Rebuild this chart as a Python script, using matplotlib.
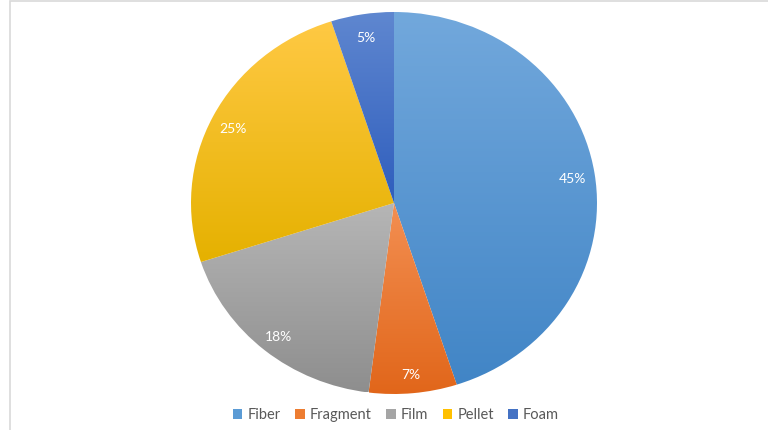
import numpy as np
import matplotlib
matplotlib.use('Agg')
import matplotlib.pyplot as plt
from matplotlib.colors import LinearSegmentedColormap
from matplotlib.patches import Patch, Rectangle

labels = ["Fiber", "Fragment", "Film", "Pellet", "Foam"]
shares = [45, 7, 18, 25, 5]
base_colors = ["#5b9bd5", "#ed7d31", "#a5a5a5", "#ffc000", "#4472c4"]
# (top, bottom) shades for each slice's vertical gradient
shades = [("#72a8dc", "#4185c6"),
          ("#f38f52", "#e1661a"),
          ("#b6b6b6", "#8e8e8e"),
          ("#ffc944", "#e5b100"),
          ("#5f87d0", "#2f5ebd")]

plt.rcParams['font.family'] = ['Lato', 'DejaVu Sans']

fig = plt.figure(figsize=(7.68, 4.30), dpi=100)
fig.patches.append(Rectangle((10 / 768, -0.1), 1.2, 1.1 - 1.5 / 430,
                             transform=fig.transFigure, fill=False,
                             edgecolor="#d9d9d9", linewidth=1.2))

ax = fig.add_axes([191 / 768, 36 / 430, 406 / 768, 382 / 430])
wedges, _ = ax.pie(shares, startangle=90, counterclock=False,
                   colors=base_colors, radius=1)
ax.set_aspect('auto')
ax.axis('off')

# vertical gradient inside each slice
for w, (top, bot) in zip(wedges, shades):
    path = w.get_path().transformed(w.get_patch_transform())
    verts = path.vertices
    y0, y1 = verts[:, 1].min(), verts[:, 1].max()
    x0, x1 = verts[:, 0].min(), verts[:, 0].max()
    cmap = LinearSegmentedColormap.from_list("g", [bot, top])
    grad = np.linspace(0, 1, 256).reshape(-1, 1)
    im = ax.imshow(grad, cmap=cmap, origin='lower', aspect='auto',
                   extent=[x0, x1, y0, y1], zorder=2)
    im.set_clip_path(w)
    w.set_visible(False)
ax.set_xlim(-1, 1)
ax.set_ylim(-1, 1)

# percentage labels
start = 90.0
for v in shares:
    mid = np.deg2rad(start - v * 3.6 / 2)
    start -= v * 3.6
    ax.text(0.89 * np.cos(mid), 0.89 * np.sin(mid) - 0.015, f"{v}%",
            ha='center', va='center', color='white', fontsize=10, zorder=3)

handles = [Patch(facecolor=c, edgecolor='none') for c in base_colors]
fig.legend(handles, labels, loc='center', bbox_to_anchor=(396 / 768, 15 / 430),
           ncol=5, frameon=False, fontsize=10.5, handlelength=0.65,
           handleheight=0.65, handletextpad=0.35, columnspacing=1.0,
           labelcolor='#595959')

fig.savefig("out.png", dpi=100, facecolor='white')
